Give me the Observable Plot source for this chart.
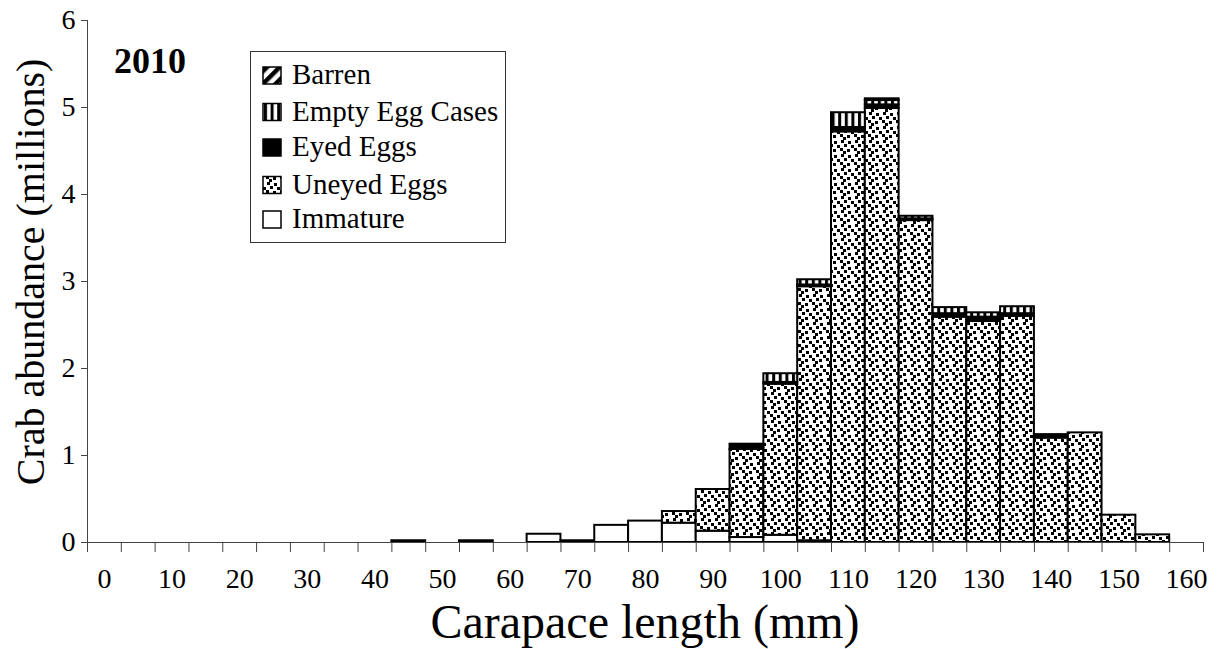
<!DOCTYPE html>
<html><head><meta charset="utf-8">
<script src="https://cdn.jsdelivr.net/npm/d3@7"></script>
<script src="https://cdn.jsdelivr.net/npm/@observablehq/plot@0.6"></script>
<style>body{margin:0;background:#fff} svg{display:block}</style>
</head><body><div id="chart"></div>
<script>
// Carapace length bins (mm, lower edge of 5-mm class)
const bins = [0,5,10,15,20,25,30,35,40,45,50,55,60,65,70,75,80,85,90,95,100,105,110,115,120,125,130,135,140,145,150,155,160];
const binWidth = 5;
// Abundance (millions) per bin, per maturity/egg status
const immature = [0,0,0,0,0,0,0,0,0,0.02,0,0.02,0,0.095,0.02,0.197,0.246,0.222,0.13,0.057,0.083,0.02,0,0,0,0,0,0,0,0,0,0,0];
const uneyed   = [0,0,0,0,0,0,0,0,0,0,0,0,0,0,0,0,0,0.134,0.479,1.013,1.737,2.92,4.72,4.99,3.70,2.59,2.54,2.60,1.20,1.26,0.314,0.088,0];
const eyed     = [0,0,0,0,0,0,0,0,0,0,0,0,0,0,0,0,0,0,0,0.06,0.02,0.02,0.05,0.04,0.02,0.04,0.05,0.03,0.04,0,0,0,0];
const emptyEgg = [0,0,0,0,0,0,0,0,0,0,0,0,0,0,0,0,0,0,0,0,0.10,0.06,0.17,0.05,0.03,0.07,0.05,0.08,0,0,0,0,0];
const barren   = [0,0,0,0,0,0,0,0,0,0,0,0,0,0,0,0,0,0,0,0,0,0,0,0.02,0,0,0,0,0,0,0,0,0];

const seriesNames = ["Immature","Uneyed Eggs","Eyed Eggs","Empty Egg Cases","Barren"]; // stack order bottom→top
const seriesValues = [immature, uneyed, eyed, emptyEgg, barren];
const legendOrder = ["Barren","Empty Egg Cases","Eyed Eggs","Uneyed Eggs","Immature"];
const patternUrls = ["url(#pImm)","url(#pUneyed)","url(#pEyed)","url(#pEmpty)","url(#pBarren)"];
const yTicks = [0,1,2,3,4,5,6];
const xTickLabels = [0,10,20,30,40,50,60,70,80,90,100,110,120,130,140,150,160];
const yearLabel = "2010";
const xTitle = "Carapace length (mm)";
const yTitle = "Crab abundance (millions)";

const data = [];
seriesNames.forEach((s, si) => bins.forEach((b, i) => {
  const v = seriesValues[si][i];
  if (v > 0) data.push({bin: b, series: s, value: v});
}));

const boundaries = bins.concat([bins[bins.length-1] + binWidth]);
const labelPositions = xTickLabels.map(v => v + binWidth / 2);
const serif = "'Liberation Serif','Times New Roman',serif";

const chart = Plot.plot({
  width: 1217, height: 649,
  marginLeft: 87, marginRight: 14, marginTop: 20, marginBottom: 107,
  style: {fontFamily: serif, fontSize: "28px", color: "#000", background: "#fff"},
  x: {domain: [0, 165], axis: null},
  y: {domain: [0, 6], axis: null},
  color: {domain: seriesNames, range: patternUrls},
  marks: [
    Plot.rectY(data, Plot.stackY({x1: "bin", x2: d => d.bin + binWidth, y: "value", fill: "series", order: seriesNames, stroke: "#000", strokeWidth: 2})),
    Plot.ruleY([0], {stroke: "#444", strokeWidth: 1}),
    Plot.ruleX([0], {stroke: "#444", strokeWidth: 1}),
    Plot.axisY({ticks: yTicks, tickSize: 6, tickPadding: 6, label: null, stroke: "#444", tickFormat: d => String(d)}),
    Plot.axisX({ticks: boundaries, tickSize: 10, tickFormat: () => "", label: null, stroke: "#444"}),
    Plot.axisX({ticks: labelPositions, tickSize: 0, tickPadding: 26, label: null,
      tickFormat: d => String(xTickLabels[labelPositions.indexOf(d)])})
  ]
});

const svg = d3.select(chart);
svg.insert("defs", ":first-child").html(`
  <pattern id="pImm" width="4" height="4" patternUnits="userSpaceOnUse"><rect width="4" height="4" fill="#fff"/></pattern>
  <pattern id="pEyed" width="4" height="4" patternUnits="userSpaceOnUse"><rect width="4" height="4" fill="#000"/></pattern>
  <pattern id="pUneyed" width="14" height="14" patternUnits="userSpaceOnUse">
    <rect width="14" height="14" fill="#fff"/>
    <g fill="#000">
      <rect x="1" y="0" width="3" height="3"/>
      <rect x="8" y="1" width="3" height="3"/>
      <rect x="4" y="4" width="3" height="3"/>
      <rect x="11" y="5" width="3" height="3"/>
      <rect x="0" y="8" width="3" height="3"/>
      <rect x="7" y="9" width="3" height="3"/>
      <rect x="3" y="11" width="3" height="3"/>
    </g>
  </pattern>
  <pattern id="pEmpty" width="6.6" height="10" patternUnits="userSpaceOnUse">
    <rect width="6.6" height="10" fill="#fff"/><rect x="0" width="3" height="10" fill="#000"/>
  </pattern>
  <pattern id="pBarren" width="9" height="9" patternUnits="userSpaceOnUse" patternTransform="rotate(45)">
    <rect width="9" height="9" fill="#fff"/><rect width="4.5" height="9" fill="#000"/>
  </pattern>
`);

// Year label
svg.append("text").attr("x", 114).attr("y", 73).attr("text-anchor", "start")
  .attr("font-family", serif).attr("font-size", 36).attr("font-weight", "bold").text(yearLabel);

// Axis titles
svg.append("text").attr("x", 645).attr("y", 638).attr("text-anchor", "middle")
  .attr("font-family", serif).attr("font-size", 48).text(xTitle);
svg.append("text").attr("transform", "translate(44,272) rotate(-90)").attr("text-anchor", "middle")
  .attr("font-family", serif).attr("font-size", 40).text(yTitle);

// Legend
const lg = svg.append("g").attr("text-anchor", "start");
lg.append("rect").attr("x", 250.5).attr("y", 51.5).attr("width", 255).attr("height", 191)
  .attr("fill", "#fff").attr("stroke", "#333").attr("stroke-width", 1);
const baselines = [84, 120.5, 156, 193.5, 228];
legendOrder.forEach((name, i) => {
  const fill = patternUrls[seriesNames.indexOf(name)];
  lg.append("rect").attr("x", 263).attr("y", baselines[i] - 17).attr("width", 18).attr("height", 17)
    .attr("fill", fill).attr("stroke", "#000").attr("stroke-width", 1.5);
  lg.append("text").attr("x", 292).attr("y", baselines[i]).attr("text-anchor", "start")
    .attr("font-family", serif).attr("font-size", 29).text(name);
});

document.getElementById("chart").appendChild(chart);
</script>
</body></html>
